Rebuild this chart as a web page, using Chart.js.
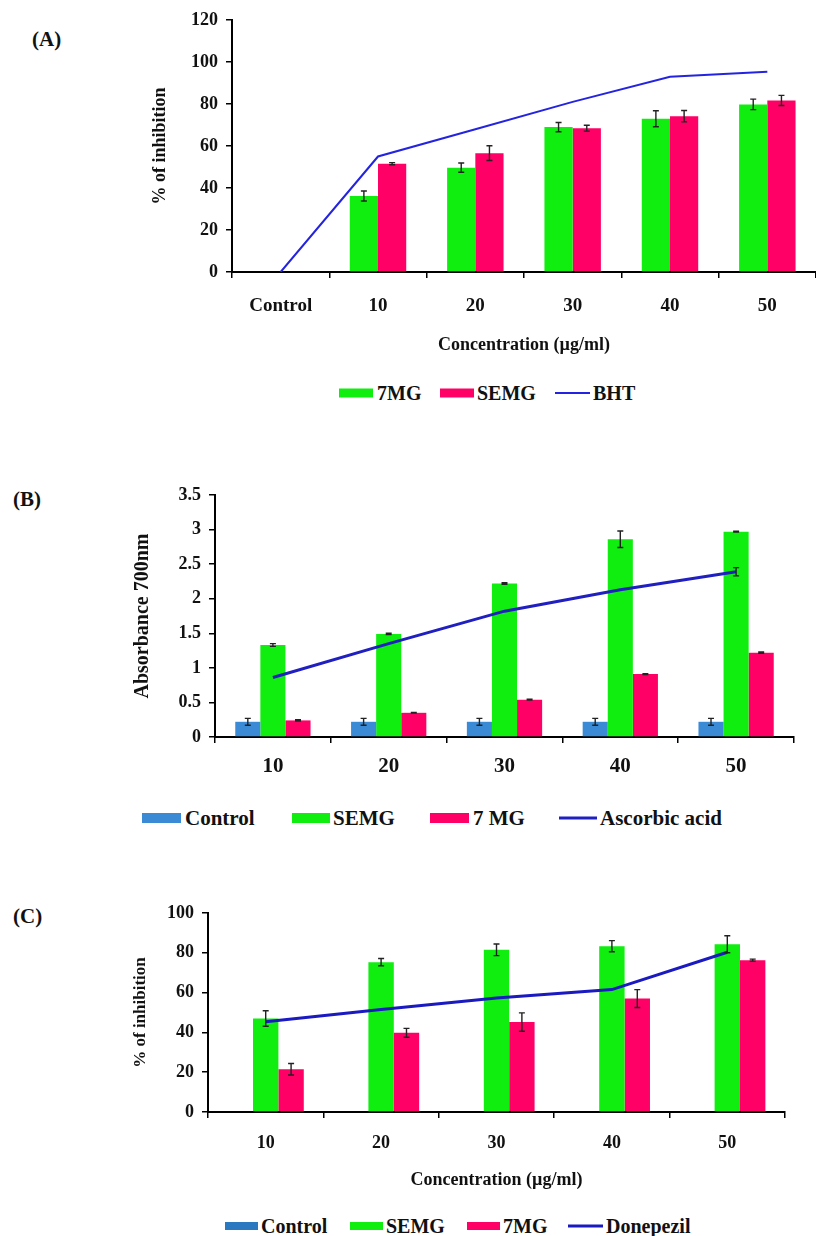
<!DOCTYPE html>
<html><head><meta charset="utf-8">
<script src="https://cdn.jsdelivr.net/npm/chart.js@4.4.0/dist/chart.umd.min.js"></script>
<style>
html,body{margin:0;padding:0;background:#fff;overflow:hidden;width:816px;height:1236px;position:relative}
.c{position:absolute;left:0;width:816px}
.t{position:absolute;font-family:'Liberation Serif','Times New Roman',serif;font-weight:bold;color:#111;white-space:nowrap;line-height:1;transform:translateY(-50%)}
.b{position:absolute;transform:translateY(-50%)}
</style></head><body>
<div class="t" style="left:32px;top:39px;font-size:21px">(A)</div>
<div class="t" style="left:13px;top:499px;font-size:21px">(B)</div>
<div class="t" style="left:13px;top:916px;font-size:21px">(C)</div>

<div class="c" style="top:0;height:360px"><canvas id="ca" width="816" height="360"></canvas></div>
<div class="c" style="top:460px;height:330px"><canvas id="cb" width="816" height="330"></canvas></div>
<div class="c" style="top:880px;height:320px"><canvas id="cc" width="816" height="320"></canvas></div>

<!-- legend A -->
<div class="b" style="left:339px;top:393px;width:34px;height:9px;background:#10ee10"></div>
<div class="t" style="left:377px;top:393px;font-size:20px">7MG</div>
<div class="b" style="left:440px;top:393px;width:34px;height:9px;background:#ff0066"></div>
<div class="t" style="left:477px;top:393px;font-size:20px">SEMG</div>
<div class="b" style="left:555px;top:393px;width:35px;height:2px;background:#2424e0"></div>
<div class="t" style="left:593px;top:393px;font-size:20px">BHT</div>

<!-- legend B -->
<div class="b" style="left:142px;top:818px;width:39px;height:10px;background:#3a8ad6"></div>
<div class="t" style="left:185px;top:818px;font-size:21px">Control</div>
<div class="b" style="left:292px;top:818px;width:38px;height:10px;background:#10ee10"></div>
<div class="t" style="left:333px;top:818px;font-size:21px">SEMG</div>
<div class="b" style="left:430px;top:818px;width:39px;height:10px;background:#ff0066"></div>
<div class="t" style="left:473px;top:818px;font-size:21px">7 MG</div>
<div class="b" style="left:559px;top:818px;width:38px;height:3px;background:#2020c0"></div>
<div class="t" style="left:600px;top:818px;font-size:21px">Ascorbic acid</div>

<!-- legend C -->
<div class="b" style="left:225px;top:1226px;width:33px;height:8px;background:#2a78c0"></div>
<div class="t" style="left:261px;top:1226px;font-size:20px">Control</div>
<div class="b" style="left:350px;top:1226px;width:33px;height:8px;background:#10ee10"></div>
<div class="t" style="left:386px;top:1226px;font-size:20px">SEMG</div>
<div class="b" style="left:467px;top:1226px;width:33px;height:8px;background:#ff0066"></div>
<div class="t" style="left:503px;top:1226px;font-size:20px">7MG</div>
<div class="b" style="left:568px;top:1226px;width:35px;height:3px;background:#1a1ac0"></div>
<div class="t" style="left:606px;top:1226px;font-size:20px">Donepezil</div>

<script>
// ---------- Data: chart A ----------
const catsA = ['Control', '10', '20', '30', '40', '50'];
const mg7A = [null, 36.2, 49.7, 69.0, 73.0, 79.8];
const mg7ErrA = [0, 2.4, 2.2, 2.2, 3.8, 2.5];
const semgA = [null, 51.6, 56.6, 68.5, 74.2, 81.7];
const semgErrA = [0, 0.5, 3.5, 1.4, 2.7, 2.4];
const bhtA = [0, 55.0, 68.0, 81.0, 93.0, 95.3];
const yTicksA = [0, 20, 40, 60, 80, 100, 120];
const yTickLabelsA = ['0', '20', '40', '60', '80', '100', '120'];

// ---------- Data: chart B ----------
const catsB = ['10', '20', '30', '40', '50'];
const controlB = [0.22, 0.22, 0.22, 0.22, 0.22];
const controlErrB = [0.05, 0.05, 0.05, 0.05, 0.05];
const semgB = [1.33, 1.49, 2.22, 2.86, 2.97];
const semgErrB = [0.02, 0.01, 0.01, 0.12, 0.005];
const mg7B = [0.24, 0.35, 0.54, 0.91, 1.22];
const mg7ErrB = [0.01, 0.005, 0.005, 0.005, 0.01];
const ascB = [0.86, 1.35, 1.82, 2.13, 2.39];
const ascErrB = [0, 0, 0, 0, 0.06];
const yTicksB = [0, 0.5, 1, 1.5, 2, 2.5, 3, 3.5];
const yTickLabelsB = ['0', '0.5', '1', '1.5', '2', '2.5', '3', '3.5'];

// ---------- Data: chart C ----------
const catsC = ['10', '20', '30', '40', '50'];
const controlC = [0, 0, 0, 0, 0];
const semgC = [47.0, 75.3, 81.5, 83.3, 84.3];
const semgErrC = [3.9, 1.8, 2.9, 2.8, 4.3];
const mg7C = [21.5, 39.8, 45.2, 57.0, 76.3];
const mg7ErrC = [2.9, 2.2, 4.6, 4.5, 0.5];
const donC = [45.3, 51.5, 57.3, 61.5, 80.3];
const yTicksC = [0, 20, 40, 60, 80, 100];
const yTickLabelsC = ['0', '20', '40', '60', '80', '100'];

const GREEN = '#10ee10', PINK = '#ff0066', CBLUE = '#3a8ad6';
const FONT = "'Liberation Serif','Times New Roman',serif";

const errPlugin = {
  id: 'errbars',
  afterDatasetsDraw(chart) {
    const ctx = chart.ctx, ys = chart.scales.y;
    chart.data.datasets.forEach((ds, i) => {
      if (!ds.errors) return;
      const meta = chart.getDatasetMeta(i);
      meta.data.forEach((el, j) => {
        const v = ds.data[j], e = ds.errors[j];
        if (v == null || !e) return;
        const x = el.x, y1 = ys.getPixelForValue(v + e), y2 = ys.getPixelForValue(v - e);
        ctx.save();
        ctx.strokeStyle = '#222'; ctx.lineWidth = 1.4;
        ctx.beginPath();
        ctx.moveTo(x, y1); ctx.lineTo(x, y2);
        ctx.moveTo(x - 3, y1); ctx.lineTo(x + 3, y1);
        ctx.moveTo(x - 3, y2); ctx.lineTo(x + 3, y2);
        ctx.stroke();
        ctx.restore();
      });
    });
  }
};

function bar(label, data, errs, color) {
  return { type: 'bar', label, data, errors: errs, backgroundColor: color, borderWidth: 0, order: 1 };
}
function line(label, data, errs, color, w) {
  return { type: 'line', label, data, errors: errs, borderColor: color, borderWidth: w, pointRadius: 0, tension: 0, fill: false, order: 0 };
}

function make(id, o) {
  new Chart(document.getElementById(id), {
    type: 'bar',
    data: { labels: o.labels, datasets: o.datasets },
    plugins: [errPlugin],
    options: {
      responsive: false, animation: false,
      layout: { padding: o.pad },
      plugins: { legend: { display: false }, tooltip: { enabled: false } },
      datasets: { bar: { categoryPercentage: o.catPct, barPercentage: 1 } },
      scales: {
        x: {
          offset: true,
          grid: { offset: true, drawOnChartArea: false, drawTicks: true, tickLength: 6, color: '#000', lineWidth: 1.5 },
          border: { display: true, color: '#000', width: 2 },
          ticks: { font: { family: FONT, weight: 'bold', size: o.xFont }, color: '#111', padding: o.xPad, maxRotation: 0, autoSkip: false },
          title: o.xTitle ? { display: true, text: o.xTitle, font: { family: FONT, weight: 'bold', size: o.xTitleSize }, color: '#111', padding: 0 } : { display: false },
          afterFit: s => { s.height = o.xHeight; }
        },
        y: {
          min: o.yTicks[0], max: o.yTicks[o.yTicks.length - 1],
          afterBuildTicks: s => { s.ticks = o.yTicks.map(v => ({ value: v })); },
          grid: { drawOnChartArea: false, drawTicks: true, tickLength: 6, color: '#000', lineWidth: 1.5 },
          border: { display: true, color: '#000', width: 2 },
          ticks: { font: { family: FONT, weight: 'bold', size: o.yFont }, color: '#111', padding: 8,
                   callback: (v, i) => o.yLabels[i] },
          title: { display: true, text: o.yTitle, font: { family: FONT, weight: 'bold', size: o.yTitleSize }, color: '#111', padding: 0 },
          afterFit: s => { s.width = o.yWidth; }
        }
      }
    }
  });
}

make('ca', {
  labels: catsA,
  datasets: [bar('7MG', mg7A, mg7ErrA, GREEN), bar('SEMG', semgA, semgErrA, PINK), line('BHT', bhtA, null, '#2424e0', 2)],
  yTicks: yTicksA, yLabels: yTickLabelsA, catPct: 0.58,
  pad: { left: 150, top: 20, right: 0, bottom: 4 }, yWidth: 82, xHeight: 84,
  xFont: 19, yFont: 18, xPad: 17, xTitle: 'Concentration (µg/ml)', xTitleSize: 18,
  yTitle: '% of inhibition', yTitleSize: 18
});

make('cb', {
  labels: catsB,
  datasets: [bar('Control', controlB, controlErrB, CBLUE), bar('SEMG', semgB, semgErrB, GREEN), bar('7 MG', mg7B, mg7ErrB, PINK), line('Ascorbic acid', ascB, ascErrB, '#2020c0', 3)],
  yTicks: yTicksB, yLabels: yTickLabelsB, catPct: 0.65,
  pad: { left: 131, top: 35, right: 22, bottom: 13 }, yWidth: 84, xHeight: 40,
  xFont: 21, yFont: 18, xPad: 11, xTitle: null,
  yTitle: 'Absorbance 700nm', yTitleSize: 20
});

make('cc', {
  labels: catsC,
  datasets: [bar('Control', controlC, null, '#2a78c0'), bar('SEMG', semgC, semgErrC, GREEN), bar('7MG', mg7C, mg7ErrC, PINK), line('Donepezil', donC, null, '#1a1ac0', 3)],
  yTicks: yTicksC, yLabels: yTickLabelsC, catPct: 0.66,
  pad: { left: 130, top: 33, right: 31, bottom: 9 }, yWidth: 78, xHeight: 79,
  xFont: 18, yFont: 18, xPad: 15, xTitle: 'Concentration (µg/ml)', xTitleSize: 18,
  yTitle: '% of inhibition', yTitleSize: 17
});
</script>
</body></html>
